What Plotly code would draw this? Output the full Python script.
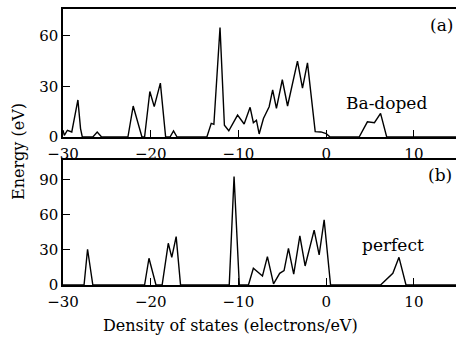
import plotly.graph_objects as go

# Ba-doped DOS (panel a)
ba_x = [-30, -29.85, -29.5, -29.0, -28.3, -28.0, -27.8, -26.6, -26.1, -25.6, -22.6, -22.0, -21.0,
        -20.7, -20.1, -19.6, -18.9, -18.3, -17.8, -17.4, -17.0, -13.6, -13.1, -12.8, -12.1,
        -11.6, -11.1, -10.1, -9.35, -8.67, -8.3, -7.95, -7.64, -7.15, -6.5, -6.1, -5.67, -5.0,
        -4.4, -3.27, -2.7, -2.13, -1.25, -0.6, 0.0, 0.45, 3.76, 4.7, 5.5, 6.2, 6.9, 14.8]
ba_y = [4, 1, 4, 3, 22, 5, 0, 0, 3, 0, 0, 18.4, 0,
        0, 27, 18, 32, 0, 0, 3.6, 0, 0, 8.1, 7.5, 65,
        7, 3.7, 13, 7.7, 17.6, 8.5, 10, 1.8, 11, 18, 28, 17, 34,
        18.4, 45, 29, 44, 3.2, 3, 2, 0, 0, 9, 8.5, 14, 0, 0]

# Perfect DOS (panel b)
pf_x = [-30, -27.6, -27.2, -26.6, -20.7, -20.2, -19.4, -18.7, -18.0, -17.6, -17.1, -16.6,
        -11.05, -10.5, -9.9, -8.86, -8.3, -7.26, -6.7, -6.0, -5.3, -4.8, -4.3, -3.7, -3.0,
        -2.4, -1.37, -0.8, -0.23, 0.5, 6.2, 7.6, 8.3, 9.1, 14.8]
pf_y = [0, 0, 30.6, 0, 0, 22.9, 0, 0, 35.7, 23.7, 41.4, 0,
        0, 92.9, 0, 0, 14.3, 7.7, 24.3, 1, 10, 12.3, 31.4, 9.4, 42,
        16.3, 47, 25.7, 55.7, 0, 0, 10, 23.7, 0, 0]

x_ticks = [-30, -20, -10, 0, 10]
top_yticks = [0, 30, 60]
bot_yticks = [0, 30, 60, 90]

FONT = "DejaVu Serif"
W, H = 456, 339
L, R, T, B = 63, 0, 9, 54
PW, PH = W - L - R, H - T - B


def px2paper(px, py):
    return (px - L) / PW, (H - B - py) / PH


fig = go.Figure()
fig.add_trace(go.Scatter(x=ba_x, y=ba_y, mode="lines", line=dict(color="black", width=1.4),
                         xaxis="x", yaxis="y", showlegend=False, hoverinfo="skip"))
fig.add_trace(go.Scatter(x=pf_x, y=pf_y, mode="lines", line=dict(color="black", width=1.4),
                         xaxis="x2", yaxis="y2", showlegend=False, hoverinfo="skip"))

tf = dict(family=FONT, size=15, color="black")
xcommon = dict(range=[-30, 14.8], tickvals=x_ticks, ticks="inside", ticklen=7, tickwidth=1.2,
               tickcolor="black", showline=True, linecolor="black", linewidth=1.5, mirror=True,
               showgrid=False, zeroline=False, automargin=False, tickfont=tf, ticklabelstandoff=2)
ycommon = dict(ticks="inside", ticklen=7, tickwidth=1.2, tickcolor="black", showline=True,
               linecolor="black", linewidth=1.5, showgrid=False, zeroline=False,
               automargin=False, tickfont=tf)

top_dom = [px2paper(0, 137)[1], px2paper(0, 9)[1]]
bot_dom = [px2paper(0, 285)[1], px2paper(0, 160)[1]]

anns = []
for text, px, py, size, ang in [("Ba-doped", 386, 103, 17, 0), ("perfect", 393, 245, 17, 0),
                                ("(a)", 441, 25, 17, 0), ("(b)", 440, 175, 17, 0),
                                ("Energy (eV)", 18, 152, 16, -90),
                                ("Density of states (electrons/eV)", 230, 325, 16, 0)]:
    ax_, ay_ = px2paper(px, py)
    anns.append(dict(text=text, x=ax_, y=ay_, xref="paper", yref="paper", showarrow=False,
                     xanchor="center", yanchor="middle", textangle=ang,
                     font=dict(family=FONT, size=size, color="black")))

fig.update_layout(
    template="none",
    width=W, height=H, margin=dict(l=L, r=R, t=T, b=B, autoexpand=False),
    plot_bgcolor="white", paper_bgcolor="white",
    xaxis=dict(domain=[0, 1], anchor="y", **xcommon),
    yaxis=dict(domain=top_dom, anchor="x", range=[0, 76], tickvals=top_yticks, **ycommon),
    xaxis2=dict(domain=[0, 1], anchor="y2", **xcommon),
    yaxis2=dict(domain=bot_dom, anchor="x2", range=[0, 107], tickvals=bot_yticks, **ycommon),
    annotations=anns,
)

fig.write_html("out.html", config={"displayModeBar": False},
               post_script="document.body.style.margin='0';document.body.style.overflow='hidden';")
